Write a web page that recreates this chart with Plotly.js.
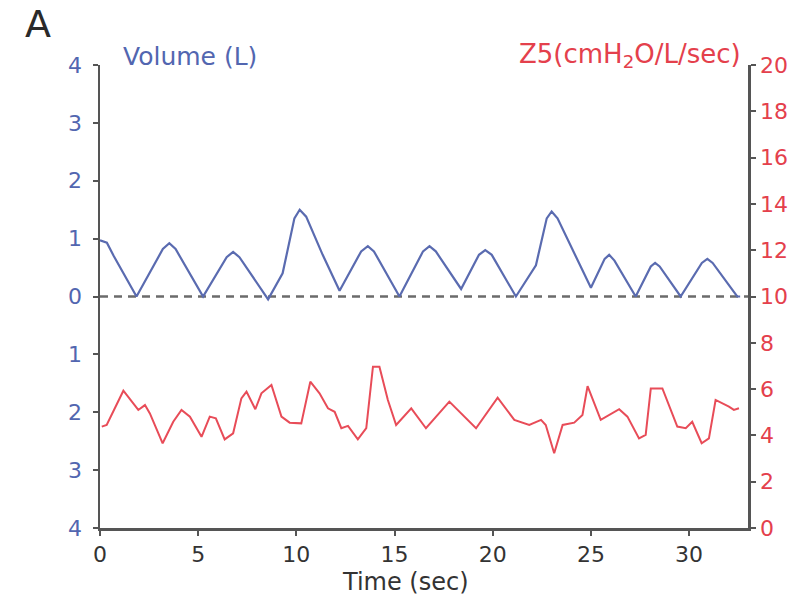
<!DOCTYPE html>
<html>
<head>
<meta charset="utf-8">
<script src="https://cdn.plot.ly/plotly-3.0.1.min.js"></script>
<style>html,body{margin:0;padding:0;background:#fff;}#chart{width:791px;height:601px;}</style>
</head>
<body>
<div id="chart"></div>
<script>
// Volume (L) trace
const volTime = [0, 0.35, 0.7, 1.86, 3.2, 3.53, 3.85, 5.25, 6.45, 6.78, 7.1, 8.56, 9.3, 9.9, 10.17, 10.5, 11.34, 12.2, 13.3, 13.64, 13.95, 15.25, 16.45, 16.78, 17.1, 18.39, 19.3, 19.62, 19.95, 21.18, 22.2, 22.75, 23.0, 23.3, 25.0, 25.7, 25.93, 26.2, 27.28, 28.05, 28.27, 28.5, 29.57, 30.65, 30.93, 31.2, 32.45, 32.6];
const volume  = [0.97, 0.93, 0.7, 0.0, 0.82, 0.92, 0.82, 0.0, 0.68, 0.77, 0.68, -0.05, 0.40, 1.35, 1.50, 1.38, 0.72, 0.10, 0.78, 0.87, 0.78, 0.0, 0.78, 0.87, 0.78, 0.13, 0.72, 0.80, 0.72, 0.0, 0.54, 1.35, 1.47, 1.35, 0.15, 0.65, 0.72, 0.62, 0.0, 0.52, 0.58, 0.52, 0.0, 0.58, 0.65, 0.58, 0.0, 0.0];

// Z5 (cmH2O/L/sec) trace
const z5Time = [0.09, 0.34, 1.19, 1.95, 2.29, 2.54, 3.19, 3.73, 4.15, 4.58, 5.17, 5.59, 5.90, 6.35, 6.78, 7.2, 7.46, 7.91, 8.22, 8.73, 9.24, 9.66, 10.25, 10.71, 11.18, 11.61, 11.95, 12.29, 12.63, 13.13, 13.56, 13.9, 14.23, 14.66, 15.08, 15.85, 16.6, 17.79, 19.15, 20.25, 21.1, 21.86, 22.46, 22.7, 23.13, 23.56, 24.15, 24.57, 24.83, 25.5, 26.44, 26.86, 27.45, 27.79, 28.05, 28.64, 29.4, 29.83, 30.16, 30.64, 31.01, 31.35, 32.03, 32.28, 32.54];
const z5      = [4.38, 4.45, 5.93, 5.10, 5.31, 4.95, 3.66, 4.59, 5.10, 4.81, 3.94, 4.81, 4.74, 3.83, 4.09, 5.60, 5.89, 5.13, 5.82, 6.18, 4.81, 4.55, 4.52, 6.32, 5.82, 5.17, 5.02, 4.31, 4.41, 3.83, 4.31, 6.97, 6.97, 5.53, 4.45, 5.17, 4.31, 5.46, 4.31, 5.63, 4.67, 4.45, 4.67, 4.45, 3.23, 4.45, 4.55, 4.88, 6.13, 4.67, 5.13, 4.81, 3.87, 4.02, 6.03, 6.03, 4.38, 4.31, 4.59, 3.66, 3.87, 5.53, 5.24, 5.10, 5.17];

const xTicks = [0, 5, 10, 15, 20, 25, 30];
const volTickVals = [-4, -3, -2, -1, 0, 1, 2, 3, 4];
const volTickText = ['4', '3', '2', '1', '0', '1', '2', '3', '4'];
const zTickVals = [0, 2, 4, 6, 8, 10, 12, 14, 16, 18, 20];

const BLUE = '#5266b0';
const BLUE_LINE = '#5a6bb0';
const RED = '#e4404c';
const RED_LINE = '#e84c58';
const AX = '#555555';
const FONT = 'DejaVu Sans, Arial, sans-serif';

const traces = [
  {x: volTime, y: volume, type: 'scatter', mode: 'lines', yaxis: 'y',
   line: {color: BLUE_LINE, width: 2.2}, hoverinfo: 'skip'},
  {x: z5Time, y: z5, type: 'scatter', mode: 'lines', yaxis: 'y2',
   line: {color: RED_LINE, width: 2}, hoverinfo: 'skip'}
];

const layout = {
  width: 791, height: 601,
  margin: {l: 100, r: 43, t: 65, b: 73},
  paper_bgcolor: '#ffffff', plot_bgcolor: '#ffffff',
  showlegend: false,
  font: {family: FONT, color: '#333'},
  xaxis: {
    range: [0, 33], tickvals: xTicks, ticks: 'outside', ticklen: 5, tickwidth: 2,
    tickcolor: AX, showline: true, linecolor: AX, linewidth: 2.5,
    showgrid: false, zeroline: false,
    tickfont: {family: FONT, size: 22, color: '#333'}
  },
  yaxis: {
    range: [-4, 4], tickvals: volTickVals, ticktext: volTickText,
    ticks: 'outside', ticklen: 5, tickwidth: 2, tickcolor: AX,
    showline: true, linecolor: AX, linewidth: 2.5,
    showgrid: false, zeroline: false, ticklabelstandoff: 6,
    tickfont: {family: FONT, size: 22, color: BLUE}
  },
  yaxis2: {
    range: [0, 20], tickvals: zTickVals, overlaying: 'y', side: 'right',
    ticks: 'outside', ticklen: 5, tickwidth: 2, tickcolor: AX,
    showline: true, linecolor: AX, linewidth: 2.5,
    showgrid: false, zeroline: false,
    tickfont: {family: FONT, size: 22, color: RED}
  },
  shapes: [
    {type: 'line', xref: 'paper', yref: 'y', x0: 0, x1: 1, y0: 0, y1: 0,
     line: {color: '#6b6b6b', width: 2.5, dash: '8px,6px'}, layer: 'below'}
  ],
  annotations: [
    {text: 'Volume (L)', xref: 'paper', yref: 'paper', x: 0.033, y: 1.019,
     xanchor: 'left', yanchor: 'middle', showarrow: false,
     font: {family: FONT, size: 25, color: BLUE}},
    {text: 'Z5(cmH<sub>2</sub>O/L/sec)', xref: 'paper', yref: 'paper', x: 0.992, y: 1.02,
     xanchor: 'right', yanchor: 'middle', showarrow: false,
     font: {family: FONT, size: 26, color: RED}},
    {text: 'Time (sec)', xref: 'paper', yref: 'paper', x: 0.472, y: -0.117,
     xanchor: 'center', yanchor: 'middle', showarrow: false,
     font: {family: FONT, size: 24, color: '#333'}},
    {text: 'A', xref: 'paper', yref: 'paper', x: -0.096, y: 1.089,
     xanchor: 'center', yanchor: 'middle', showarrow: false,
     font: {family: FONT, size: 38, color: '#2a2a2a'}}
  ]
};

Plotly.newPlot('chart', traces, layout, {staticPlot: true, displayModeBar: false});
</script>
</body>
</html>
